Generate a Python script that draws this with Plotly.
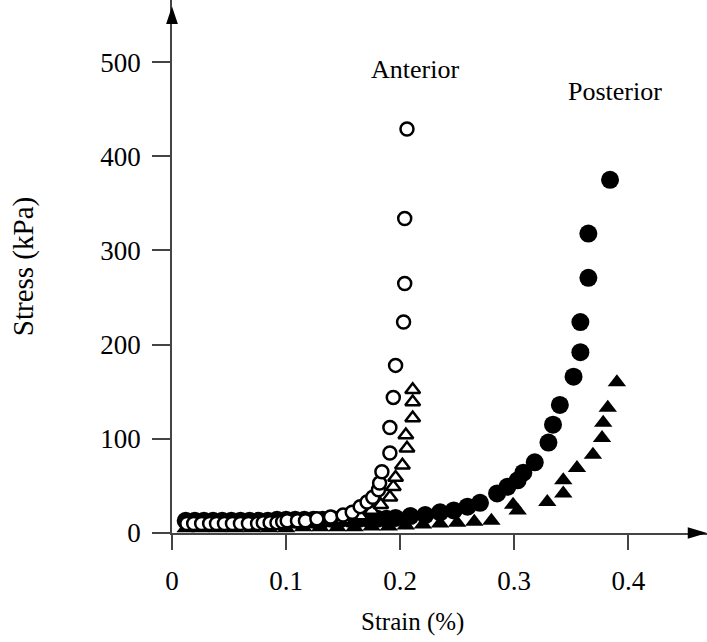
import plotly.graph_objects as go

# Anterior - open circles
ant_circ_x = [0.013, 0.019, 0.026, 0.033, 0.039, 0.046, 0.053, 0.060, 0.067, 0.075, 0.080, 0.086, 0.092, 0.097,
              0.101, 0.110, 0.117, 0.127, 0.139, 0.150, 0.158, 0.165, 0.171, 0.176, 0.181, 0.182, 0.184,
              0.191, 0.191, 0.194, 0.196, 0.203, 0.204, 0.204, 0.206]
ant_circ_y = [10, 10, 10, 10, 10, 10, 10, 10, 10, 10, 11, 11, 11, 12,
              13, 13, 13, 15, 17, 19, 22, 28, 33, 38, 46, 53, 65,
              85, 112, 144, 178, 224, 265, 334, 429]

# Anterior - open triangles
ant_tri_x = [0.150, 0.165, 0.175, 0.183, 0.191, 0.194, 0.196, 0.202, 0.206, 0.205, 0.211, 0.211, 0.211]
ant_tri_y = [14, 18, 24, 30, 38, 49, 59, 72, 90, 104, 122, 139, 152]

# Posterior - filled circles
post_circ_x = [0.012, 0.020, 0.028, 0.036, 0.044, 0.052, 0.060, 0.068, 0.076, 0.084, 0.092, 0.100,
               0.108, 0.116, 0.124, 0.132, 0.140, 0.148, 0.156, 0.164, 0.172, 0.180, 0.188, 0.196,
               0.209, 0.222, 0.235, 0.247, 0.259, 0.270, 0.285, 0.294, 0.303, 0.308, 0.318, 0.330, 0.334,
               0.340, 0.352, 0.358, 0.358, 0.365, 0.365, 0.384]
post_circ_y = [13, 13, 13, 13, 13, 13, 13, 13, 13, 13, 14, 14,
               14, 14, 14, 14, 15, 15, 15, 15, 15, 15, 15, 16,
               18, 19, 22, 24, 28, 32, 42, 49, 56, 64, 75, 96, 115,
               136, 166, 192, 224, 271, 318, 375]

# Posterior - filled triangles
post_tri_x = [0.012, 0.025, 0.040, 0.055, 0.070, 0.085, 0.100, 0.115, 0.130, 0.145, 0.160, 0.175,
              0.190, 0.205, 0.220, 0.235, 0.250, 0.265, 0.280, 0.299, 0.303, 0.329, 0.343, 0.343,
              0.355, 0.369, 0.377, 0.378, 0.382, 0.390]
post_tri_y = [5, 5, 5, 5, 5, 5, 5, 6, 6, 6, 6, 7,
              7, 8, 9, 10, 11, 12, 13, 30, 24, 33, 42, 56,
              69, 83, 101, 117, 133, 160]

y_ticks = [0, 100, 200, 300, 400, 500]
x_ticks = [0, 0.1, 0.2, 0.3, 0.4]
x_tick_text = ["0", "0.1", "0.2", "0.3", "0.4"]

FONT = "Liberation Serif"

fig = go.Figure()
fig.add_trace(go.Scatter(x=post_tri_x, y=post_tri_y, mode="markers",
                         marker=dict(symbol="triangle-up", size=16, color="black", line=dict(width=0))))
fig.add_trace(go.Scatter(x=post_circ_x, y=post_circ_y, mode="markers",
                         marker=dict(symbol="circle", size=18, color="black", line=dict(width=0))))
fig.add_trace(go.Scatter(x=ant_tri_x, y=ant_tri_y, mode="markers",
                         marker=dict(symbol="triangle-up", size=13, color="white",
                                     line=dict(width=2.5, color="black"))))
fig.add_trace(go.Scatter(x=ant_circ_x, y=ant_circ_y, mode="markers",
                         marker=dict(symbol="circle", size=13, color="white",
                                     line=dict(width=2.5, color="black"))))

fig.update_layout(
    width=707, height=642,
    margin=dict(l=172, r=0, t=0, b=109),
    paper_bgcolor="white", plot_bgcolor="white",
    showlegend=False,
    font=dict(family=FONT, size=24, color="black"),
    xaxis=dict(range=[0, 0.469], tickvals=x_ticks, ticktext=x_tick_text,
               showgrid=False, zeroline=False, showline=True, linecolor="#444", linewidth=1.5,
               ticks="outside", ticklen=15, tickwidth=1.5, tickcolor="#444",
               tickfont=dict(family=FONT, size=27), ticklabelstandoff=8),
    yaxis=dict(range=[0, 566], tickvals=y_ticks,
               showgrid=False, zeroline=False, showline=True, linecolor="#444", linewidth=1.5,
               ticks="outside", ticklen=18, tickwidth=1.5, tickcolor="#444",
               tickfont=dict(family=FONT, size=27), ticklabelstandoff=6,
               title=dict(text="Stress (kPa)", font=dict(family=FONT, size=29), standoff=58)),
    annotations=[
        dict(x=0.213, y=492, xref="x", yref="y", text="Anterior", showarrow=False,
             font=dict(family=FONT, size=26)),
        dict(x=0.388, y=469, xref="x", yref="y", text="Posterior", showarrow=False,
             font=dict(family=FONT, size=26)),
        dict(x=0.449, y=-0.167, xref="paper", yref="paper", text="Strain (%)", showarrow=False,
             xanchor="center", yanchor="middle",
             font=dict(family=FONT, size=25)),
    ],
    shapes=[
        dict(type="path", xref="paper", yref="paper",
             path="M -0.011 0.955 L 0.011 0.955 L 0 0.988 Z",
             fillcolor="black", line=dict(width=0)),
        dict(type="path", xref="paper", yref="paper",
             path="M 0.964 -0.011 L 0.964 0.011 L 1.0 0 Z",
             fillcolor="black", line=dict(width=0)),
    ],
)

fig.write_html("out.html")
